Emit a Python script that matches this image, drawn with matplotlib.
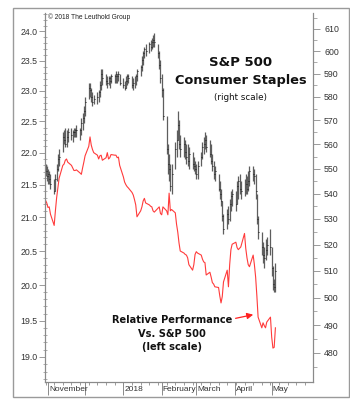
import matplotlib
matplotlib.use('Agg')
import matplotlib.pyplot as plt
import matplotlib.dates as mdates
from matplotlib.patches import Rectangle
from matplotlib.ticker import FixedLocator, FixedFormatter, NullFormatter
import pandas as pd

# dias de mercado
dias = pd.bdate_range('2017-10-30', '2018-05-04')

# rendimiento relativo vs S&P 500 (escala izquierda)
rel_perf = [
    21.26, 21.22,
    21.15, 21.16, 21.05, 20.88, 21.10, 21.30, 21.45, 21.60, 21.80, 21.82, 21.88, 21.90, 21.85, 21.80, 21.76, 21.72, 21.72, 21.73, 21.68, 21.66, 21.76, 21.85,
    21.95, 22.10, 22.25, 22.12, 22.05, 22.00, 21.96, 21.90, 21.95, 21.96, 21.88, 21.92, 22.00, 21.90, 21.92, 21.97, 21.96, 21.96, 21.92, 21.93, 21.80,
    21.62, 21.54, 21.50, 21.47, 21.45, 21.38, 21.34, 21.27, 21.19, 21.01, 21.10, 21.16, 21.25, 21.29, 21.22, 21.19, 21.17, 21.16, 21.10, 21.08, 21.14, 21.16, 21.06,
    21.04, 21.16, 21.10, 21.04, 21.37, 21.10, 21.12, 21.07, 20.90, 20.78, 20.62, 20.50, 20.47, 20.45, 20.44, 20.40, 20.30, 20.22, 20.30, 20.45,
    20.49, 20.47, 20.44, 20.38, 20.34, 20.33, 20.15, 20.19, 20.12, 20.04, 20.02, 19.98, 19.97, 19.85, 19.75, 19.84, 20.05, 20.22, 19.98, 20.30, 20.52, 20.60,
    20.63, 20.55, 20.52, 20.54, 20.56, 20.76, 20.54, 20.40, 20.30, 20.27, 20.44, 20.30, 20.12, 19.85, 19.55, 19.40, 19.47, 19.43, 19.40, 19.48, 19.55,
    19.27, 19.12, 19.13, 19.40,
]

# S&P 500 Consumer Staples (escala derecha): maximo, minimo, cierre
stap_hi = [
    552, 551,
    550, 549, 548, 546, 548, 552, 556, 558, 565, 566, 567, 566, 567, 567, 566, 567, 567, 568, 567, 571, 573, 576,
    580, 586, 586, 584, 582, 581, 582, 583, 587, 592, 592, 590, 589, 589, 589, 590, 590, 591, 590, 591, 590,
    588, 587, 589, 590, 590, 589, 588, 589, 590, 592, 594, 598, 600, 602, 603, 604, 605, 606, 607, 608, 603, 600, 596,
    590, 584, 572, 560, 556, 552, 552, 561, 566, 574, 570, 564, 563, 562, 560, 560, 559, 557, 555, 553,
    552, 553, 557, 561, 563, 565, 564, 562, 560, 556, 553, 551, 548, 545, 542, 537, 532, 534, 535, 538, 541, 542,
    541, 545, 547, 548, 545, 546, 548, 547, 549, 551, 551, 550, 548, 540, 531, 525, 521, 519, 522, 523, 526,
    519, 512, 507, 513,
]
stap_lo = [
    547, 545,
    544, 544, 542, 540, 541, 545, 549, 551, 557, 560, 559, 559, 561, 562, 561, 563, 563, 563, 562, 564, 566, 569,
    572, 579, 580, 578, 576, 577, 577, 578, 580, 583, 585, 585, 584, 585, 584, 586, 586, 586, 586, 587, 585,
    584, 583, 584, 585, 586, 584, 583, 584, 585, 587, 589, 591, 594, 597, 598, 599, 600, 601, 602, 602, 597, 592, 586,
    580, 570, 556, 548, 545, 541, 540, 550, 555, 562, 558, 555, 555, 554, 552, 551, 550, 550, 549, 548,
    546, 546, 551, 554, 556, 558, 557, 555, 552, 549, 546, 545, 541, 538, 535, 529, 524, 526, 528, 529, 533, 535,
    533, 536, 538, 540, 538, 539, 540, 540, 541, 543, 545, 544, 538, 528, 522, 516, 513, 511, 514, 516, 516,
    508, 503, 502, 502,
]
stap_cl = [
    549, 547,
    548, 546, 544, 541, 546, 550, 554, 555, 563, 562, 560, 563, 565, 564, 565, 565, 566, 566, 566, 569, 571, 574,
    578, 584, 583, 580, 578, 579, 580, 582, 585, 590, 588, 587, 586, 588, 587, 589, 589, 590, 589, 590, 586,
    585, 584, 587, 589, 588, 585, 586, 587, 589, 591, 593, 596, 599, 601, 600, 603, 602, 604, 605, 604, 599, 594, 588,
    583, 572, 558, 552, 550, 543, 548, 558, 562, 568, 560, 558, 560, 557, 555, 553, 556, 552, 551, 550,
    548, 551, 555, 559, 560, 562, 559, 556, 553, 551, 548, 549, 542, 540, 537, 531, 526, 532, 530, 536, 539, 540,
    536, 543, 545, 542, 541, 541, 544, 542, 545, 549, 548, 547, 541, 530, 525, 519, 516, 515, 518, 520, 519,
    511, 505, 504, 510,
]

ticks_izq = [19.0, 19.5, 20.0, 20.5, 21.0, 21.5, 22.0, 22.5, 23.0, 23.5, 24.0]
ticks_der = [480, 490, 500, 510, 520, 530, 540, 550, 560, 570, 580, 590, 600, 610]
meses = pd.to_datetime(['2017-11-01', '2017-12-01', '2018-01-01', '2018-02-01',
                        '2018-03-01', '2018-04-01', '2018-05-01'])
etiquetas_mes = ['November', '', '2018', 'February', 'March', 'April', 'May']

gris = '#8a8a8a'
texto = '#333333'

fig = plt.figure(figsize=(3.5, 4.11), dpi=100)
ax1 = fig.add_axes([45/350, 29/411, 268/350, 369/411])
ax2 = ax1.twinx()

# linea roja
ax1.plot(dias, rel_perf, color='#ff3b3b', lw=0.8)
ax1.set_yscale('log')
ax1.set_ylim(18.66, 24.32)

# barras de precio
xd = mdates.date2num(dias)
ax2.vlines(xd, stap_lo, stap_hi, color='#5e5e5e', lw=0.9)
ax2.hlines(stap_cl, xd, xd + 0.8, color='#1e1e1e', lw=0.7)
ax2.set_yscale('log')
ax2.set_ylim(469.8, 617.1)

ax1.set_xlim(mdates.date2num(pd.Timestamp('2017-10-29 14:00')),
             mdates.date2num(pd.Timestamp('2018-06-03 10:00')))

# ejes y
ax1.yaxis.set_major_locator(FixedLocator(ticks_izq))
ax1.yaxis.set_major_formatter(FixedFormatter(['%.1f' % t for t in ticks_izq]))
ax1.yaxis.set_minor_locator(FixedLocator([18.7 + 0.1 * i for i in range(57)]))
ax1.yaxis.set_minor_formatter(NullFormatter())
ax1.tick_params(axis='y', which='major', direction='out', length=4, width=0.6,
                color=gris, labelsize=6.3, labelcolor=texto, pad=1.5)
ax1.tick_params(axis='y', which='minor', direction='inout', length=2.5, width=0.5, color=gris)

ax2.yaxis.set_major_locator(FixedLocator(ticks_der))
ax2.yaxis.set_major_formatter(FixedFormatter([str(t) for t in ticks_der]))
ax2.yaxis.set_minor_locator(FixedLocator([475 + 10 * i for i in range(15)]))
ax2.yaxis.set_minor_formatter(NullFormatter())
ax2.tick_params(axis='y', which='major', direction='out', length=5, width=0.6,
                color=gris, labelsize=6.3, labelcolor=texto, pad=3)
ax2.tick_params(axis='y', which='minor', direction='out', length=3, width=0.5, color=gris)

for t in ax1.get_yticklabels() + ax2.get_yticklabels():
    t.set_family('Liberation Sans')

# eje x: semanas y meses
ax1.xaxis.set_minor_locator(mdates.WeekdayLocator(byweekday=mdates.MO))
ax1.xaxis.set_major_locator(FixedLocator(mdates.date2num(meses)))
ax1.xaxis.set_major_formatter(NullFormatter())
ax1.tick_params(axis='x', which='major', direction='out', length=9, width=0.7, color=gris)
ax1.tick_params(axis='x', which='minor', direction='out', length=2.5, width=0.6, color=gris)
for m, et in zip(meses, etiquetas_mes):
    ax1.text(mdates.date2num(m) + 0.8, -0.02, et, transform=ax1.get_xaxis_transform(),
             ha='left', va='center', fontsize=6, color=texto, family='Liberation Sans')

for ax in (ax1, ax2):
    ax.spines['top'].set_visible(False)
    for s in ('left', 'right', 'bottom'):
        ax.spines[s].set_color(gris)
        ax.spines[s].set_linewidth(0.8)

# textos
ax1.text(0.011, 0.99, '© 2018 The Leuthold Group', transform=ax1.transAxes, ha='left',
         va='center', fontsize=4.8, color='#222222', family='Liberation Sans')
ax1.text(0.731, 0.867, 'S&P 500', transform=ax1.transAxes, ha='center', va='center',
         fontsize=9.5, fontweight='bold', color='#111111')
ax1.text(0.731, 0.818, 'Consumer Staples', transform=ax1.transAxes, ha='center', va='center',
         fontsize=9.3, fontweight='bold', color='#111111')
ax1.text(0.731, 0.772, '(right scale)', transform=ax1.transAxes, ha='center', va='center',
         fontsize=6.3, color='#111111')
ax1.text(0.474, 0.168, 'Relative Performance', transform=ax1.transAxes, ha='center', va='center',
         fontsize=7.1, fontweight='bold', color='#111111')
ax1.text(0.474, 0.130, 'Vs. S&P 500', transform=ax1.transAxes, ha='center', va='center',
         fontsize=7.1, fontweight='bold', color='#111111')
ax1.text(0.474, 0.095, '(left scale)', transform=ax1.transAxes, ha='center', va='center',
         fontsize=7.1, fontweight='bold', color='#111111')
ax1.annotate('', xy=(0.787, 0.184), xytext=(0.701, 0.171), xycoords='axes fraction',
             textcoords='axes fraction',
             arrowprops=dict(arrowstyle='-|>', color='#ff2020', lw=0.9, mutation_scale=9))

# marco exterior
fig.add_artist(Rectangle((13/350, 14/411), 336/350, 389/411, transform=fig.transFigure,
                         fill=False, ec='#9a9a9a', lw=1.0))

fig.savefig('out.png', dpi=100)
